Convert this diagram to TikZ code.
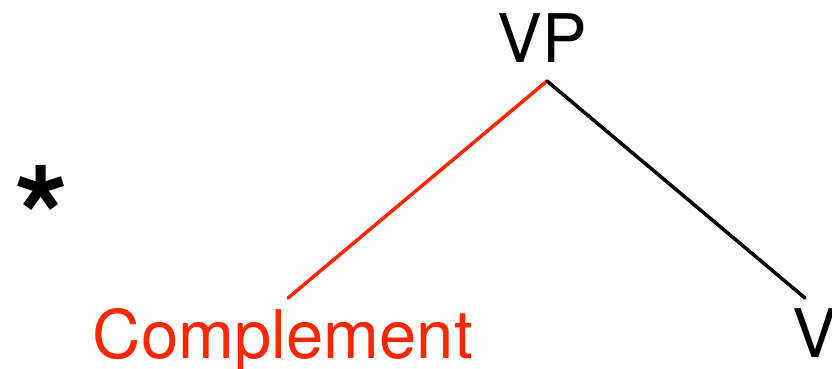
\documentclass[tikz,border=0pt]{standalone}
\usepackage{fontspec}
\setmainfont{TeX Gyre Heros}
\usetikzlibrary{calc}
\definecolor{keyred}{RGB}{255,38,0}

\begin{document}
\begin{tikzpicture}[x=1pt, y=-1pt, line width=3.5pt, line cap=round]
      \tikzset{word/.style={inner sep=0pt, anchor=base west, font=\fontsize{67}{80}\selectfont}}
      \useasboundingbox (0,0) rectangle (832,368);

      \node[word] (vp) at (496,62) {VP};
      \node[word, text=keyred] (comp) at (91,358) {Complement};
      \node[word] (v) at (791,357) {V};
      \node[inner sep=0pt, anchor=base west, font=\fontsize{140}{160}\selectfont\bfseries] (star) at (13,267) {*};

      \coordinate (apex) at ($(vp.base west)+(51,19)$);
      \coordinate (comp-top) at ($(comp.base west)+(197,-60)$);
      \coordinate (v-top) at ($(v.base west)+(14,-59)$);

      \draw[keyred] (apex) -- (comp-top);
      \draw (apex) -- (v-top);
    \end{tikzpicture}
\end{document}
